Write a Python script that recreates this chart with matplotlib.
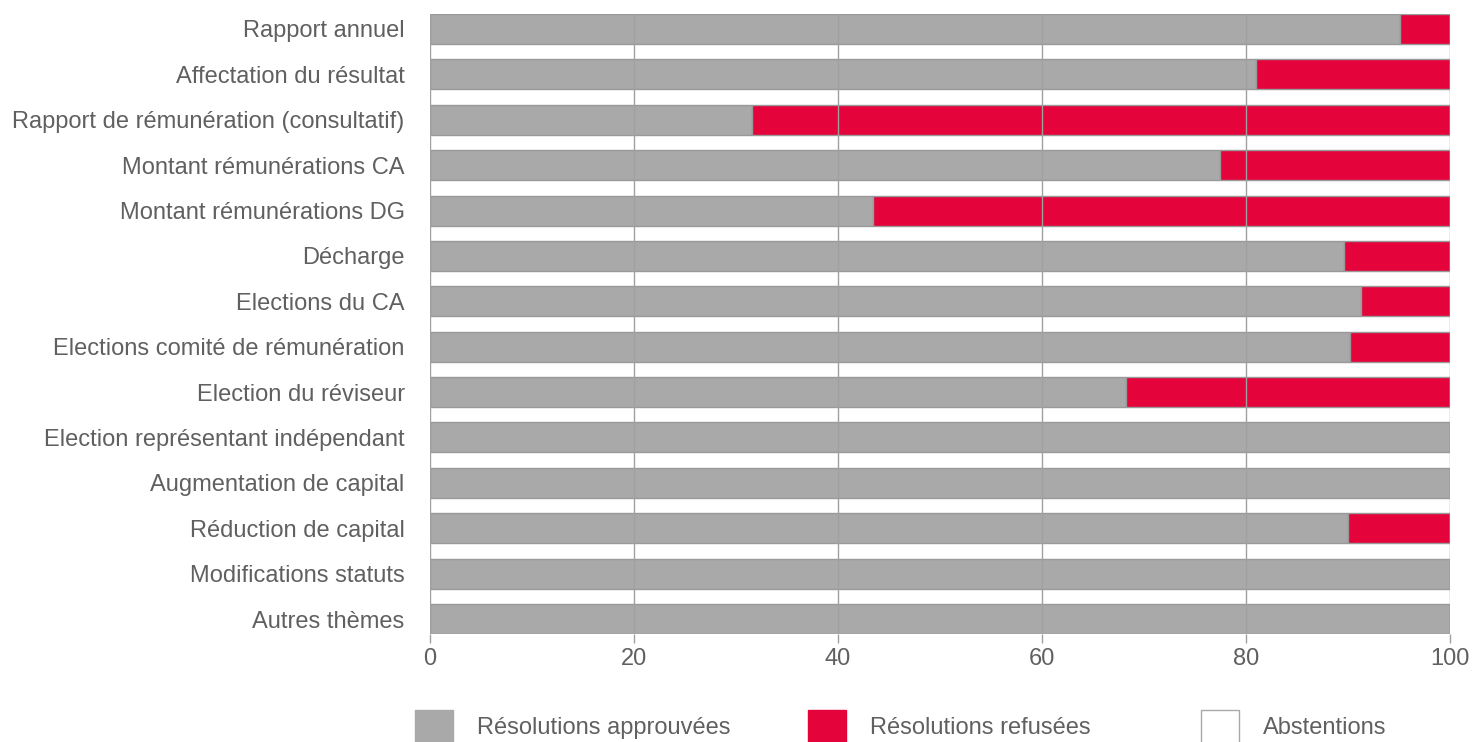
import matplotlib
matplotlib.use("Agg")
import matplotlib.pyplot as plt
from matplotlib.patches import Rectangle

plt.rcParams['font.family'] = ['Liberation Sans', 'DejaVu Sans']

categories = [
    "Rapport annuel",
    "Affectation du résultat",
    "Rapport de rémunération (consultatif)",
    "Montant rémunérations CA",
    "Montant rémunérations DG",
    "Décharge",
    "Elections du CA",
    "Elections comité de rémunération",
    "Election du réviseur",
    "Election représentant indépendant",
    "Augmentation de capital",
    "Réduction de capital",
    "Modifications statuts",
    "Autres thèmes",
]
approved = [95.1, 81.0, 31.6, 77.4, 43.4, 89.55, 91.25, 90.2, 68.25, 100, 100, 90.0, 100, 100]
refused = [4.9, 19.0, 68.4, 22.6, 56.6, 10.45, 8.75, 9.8, 31.75, 0, 0, 10.0, 0, 0]
abstentions = [0] * 14
series_names = ["Résolutions approuvées", "Résolutions refusées", "Abstentions"]
series_colors = ["#A9A9A9", "#E4033B", "#FFFFFF"]
xticks = [0, 20, 40, 60, 80, 100]

TXT = "#606060"
FS = 17
W, H = 1475, 742
fig = plt.figure(figsize=(W / 100, H / 100), dpi=100)
ax = fig.add_axes([429.7 / W, 1 - 634 / H, (1450.3 - 429.7) / W, (634 - 14) / H])

ypos = list(range(len(categories)))
bh = 0.661
left = [0] * len(categories)
for vals, col in zip([approved, refused, abstentions], series_colors):
    ax.barh(ypos, vals, left=left, height=bh, color=col, edgecolor="#999999",
            linewidth=1, zorder=2)
    left = [l + v for l, v in zip(left, vals)]

ax.set_xlim(0, 100)
ax.set_ylim(len(categories) - 1 + bh / 2, -bh / 2)
ax.set_xticks(xticks)
ax.set_xticklabels([str(t) for t in xticks])
ax.set_yticks(ypos)
ax.set_yticklabels(categories)
for s in ax.spines.values():
    s.set_visible(False)
ax.xaxis.grid(True, color="#A0A0A0", linewidth=1, zorder=3)
ax.set_axisbelow(False)
ax.tick_params(axis="x", length=6.5, color="#A0A0A0", width=1, labelsize=FS,
               labelcolor=TXT, pad=3.5)
ax.tick_params(axis="y", length=0, labelsize=FS, labelcolor=TXT, pad=18)

# legend
leg_x = [415, 808, 1201]
for x0, name, col in zip(leg_x, series_names, series_colors):
    fig.add_artist(Rectangle((x0 / W, 1 - 744 / H), 38 / W, 34 / H,
                             transform=fig.transFigure, facecolor=col,
                             edgecolor="#A9A9A9" if col == "#FFFFFF" else col,
                             linewidth=1))
    fig.text((x0 + 62) / W, 1 - 728 / H, name, ha="left", va="center",
             fontsize=FS, color=TXT)

fig.savefig("out.png", dpi=100, facecolor="white")
